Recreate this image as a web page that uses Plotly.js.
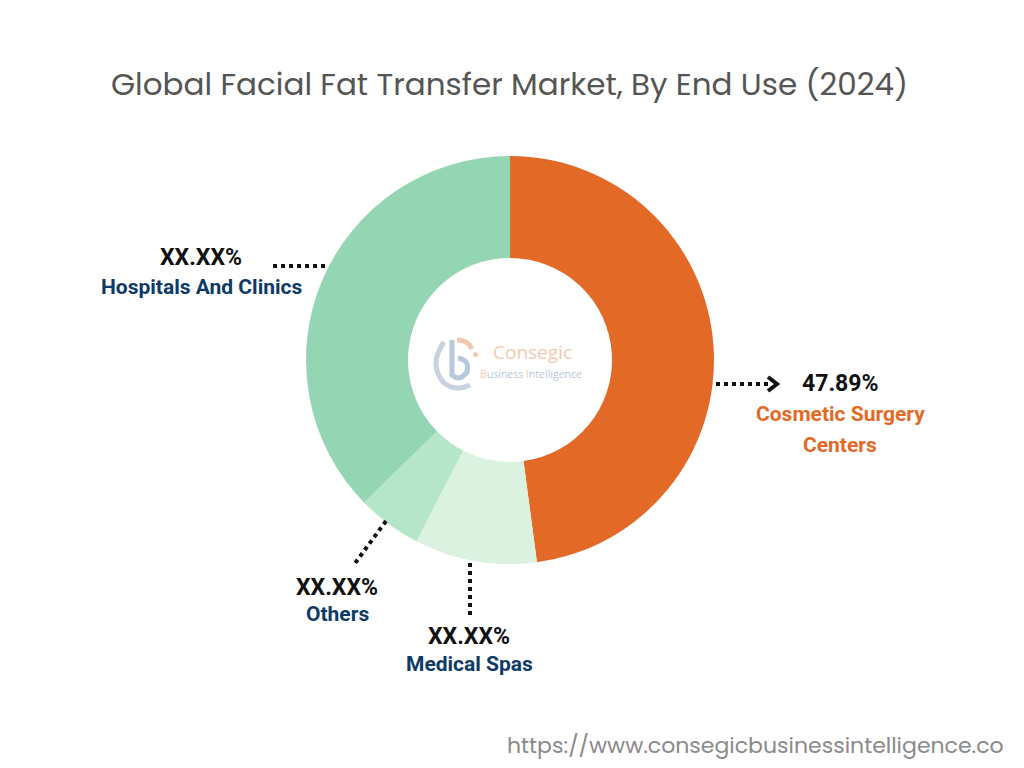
<!DOCTYPE html>
<html>
<head>
<meta charset="utf-8">
<script src="https://cdn.plot.ly/plotly-3.0.1.min.js"></script>
<style>html,body{margin:0;padding:0;background:#fff;}#chart{width:1024px;height:768px;}</style>
</head>
<body>
<div id="chart"></div>
<script>
const categories = ["Cosmetic Surgery Centers", "Medical Spas", "Others", "Hospitals And Clinics"];
const values = [47.89, 9.7, 5.1, 37.31];
const valueLabels = ["47.89%", "XX.XX%", "XX.XX%", "XX.XX%"];
const colors = ["#E36A26", "#DCF2E0", "#B6E6CA", "#94D6B3"];
const labelColors = ["#E36A26", "#0E3A66", "#0E3A66", "#0E3A66"];

const W = 1024, H = 768;
const px = x => x / W;
const py = y => 1 - y / H;

const trace = {
  type: "pie",
  labels: categories,
  values: values,
  marker: { colors: colors, line: { width: 0 } },
  hole: 0.5,
  sort: false,
  direction: "clockwise",
  rotation: 0,
  textinfo: "none",
  hoverinfo: "label+percent",
  showlegend: false,
  domain: { x: [px(306), px(714)], y: [py(564), py(156)] }
};

const pctFont = { family: "Roboto, Arial, sans-serif", size: 23, color: "#111111", weight: 700 };
const labFont = c => ({ family: "Roboto, Arial, sans-serif", size: 21, color: c, weight: 700 });

const labelPos = [
  { x: 840, yp: 383, yl: [414, 445], lines: ["Cosmetic Surgery", "Centers"] },
  { x: 469, yp: 636, yl: [664], lines: ["Medical Spas"] },
  { x: 337, yp: 587, yl: [614], lines: ["Others"] },
  { x: 201, yp: 257, yl: [287], lines: ["Hospitals And Clinics"] }
];

const annotations = [];
labelPos.forEach((p, i) => {
  annotations.push({ xref: "paper", yref: "paper", x: px(p.x), y: py(p.yp), text: valueLabels[i],
    showarrow: false, font: pctFont, xanchor: "center", yanchor: "middle" });
  p.lines.forEach((t, j) => {
    annotations.push({ xref: "paper", yref: "paper", x: px(p.x), y: py(p.yl[j]), text: t,
      showarrow: false, font: labFont(labelColors[i]), xanchor: "center", yanchor: "middle" });
  });
});

annotations.push({ xref: "paper", yref: "paper", x: px(509), y: py(84), text: "Global Facial Fat Transfer Market, By End Use (2024)",
  showarrow: false, font: { family: "Poppins, 'Open Sans', sans-serif", size: 31, color: "#555555" }, xanchor: "center", yanchor: "middle" });
annotations.push({ xref: "paper", yref: "paper", x: px(1006), y: py(745), text: "https://www.consegicbusinessintelligence.co",
  showarrow: false, font: { family: "Poppins, 'Open Sans', sans-serif", size: 22, color: "#8a8a8a" }, xanchor: "right", yanchor: "middle" });
annotations.push({ xref: "paper", yref: "paper", x: px(491), y: py(352), text: "Consegic",
  showarrow: false, font: { family: "'Open Sans', sans-serif", size: 19, color: "#F2C9B0" }, xanchor: "left", yanchor: "middle" });
annotations.push({ xref: "paper", yref: "paper", x: px(478), y: py(374), text: "<span style='color:#F2C9B0'>B</span>usiness <span style='color:#F2C9B0'>I</span>ntelligence",
  showarrow: false, font: { family: "'Open Sans', sans-serif", size: 10.5, color: "#B9C6D6" }, xanchor: "left", yanchor: "middle" });

const dotLine = { color: "#111111", width: 4, dash: "dot" };
const shapes = [
  { type: "line", xref: "paper", yref: "paper", x0: px(716), y0: py(384), x1: px(768), y1: py(384), line: dotLine },
  { type: "path", xref: "paper", yref: "paper",
    path: `M ${px(768)} ${py(377)} L ${px(777)} ${py(384)} L ${px(768)} ${py(391)}`,
    line: { color: "#111111", width: 4 } },
  { type: "line", xref: "paper", yref: "paper", x0: px(470), y0: py(563), x1: px(470), y1: py(615), line: dotLine },
  { type: "line", xref: "paper", yref: "paper", x0: px(386), y0: py(521), x1: px(353), y1: py(566), line: dotLine },
  { type: "line", xref: "paper", yref: "paper", x0: px(273), y0: py(266), x1: px(327), y1: py(266), line: dotLine },
  { type: "path", xref: "paper", yref: "paper",
    path: `M ${px(444)} ${py(342)} Q ${px(428)} ${py(365)} ${px(444)} ${py(383)} Q ${px(456)} ${py(392)} ${px(470)} ${py(385)}`,
    line: { color: "#C9D3DF", width: 5 } },
  { type: "path", xref: "paper", yref: "paper",
    path: `M ${px(452)} ${py(340)} L ${px(452)} ${py(375)} Q ${px(460)} ${py(382)} ${px(467)} ${py(372)} Q ${px(470)} ${py(360)} ${px(458)} ${py(358)}`,
    line: { color: "#B8C9DD", width: 5 } },
  { type: "path", xref: "paper", yref: "paper",
    path: `M ${px(457)} ${py(340)} Q ${px(468)} ${py(340)} ${px(472)} ${py(349)}`,
    line: { color: "#F2C9B0", width: 5 } },
  { type: "circle", xref: "paper", yref: "paper", x0: px(473), y0: py(352), x1: px(478), y1: py(357),
    fillcolor: "#F2C9B0", line: { width: 0 } }
];

const layout = {
  width: W, height: H,
  margin: { l: 0, r: 0, t: 0, b: 0 },
  paper_bgcolor: "#ffffff",
  plot_bgcolor: "#ffffff",
  showlegend: false,
  annotations: annotations,
  shapes: shapes
};

Plotly.newPlot("chart", [trace], layout, { displayModeBar: false, staticPlot: true });
</script>
</body>
</html>
